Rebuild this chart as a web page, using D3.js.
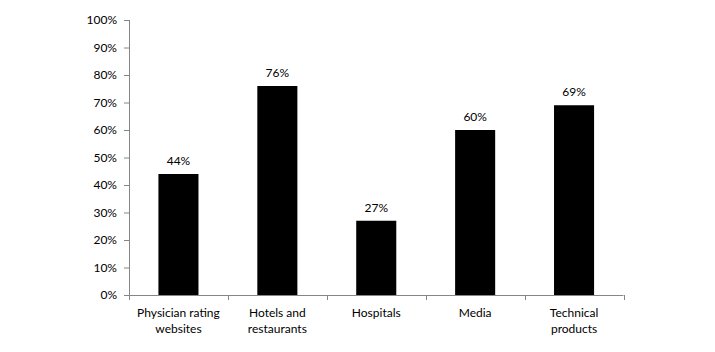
<!DOCTYPE html>
<html><head><meta charset="utf-8">
<script src="https://cdn.jsdelivr.net/npm/d3@7"></script>
<style>body{margin:0;background:#fff}svg{display:block}text{font-family:Lato,"Noto Sans",sans-serif;fill:#000}</style>
</head><body><svg id="c" width="715" height="352"></svg>
<script>
const categories = [["Physician rating","websites"],["Hotels and","restaurants"],["Hospitals"],["Media"],["Technical","products"]];
const values = [44, 76, 27, 60, 69];
const yTicks = [0,10,20,30,40,50,60,70,80,90,100];

const svg = d3.select("#c");
const x = d3.scaleBand().domain(d3.range(categories.length)).range([129, 623.5]).padding(0);
const y = d3.scaleLinear().domain([0,100]).range([295, 20]);
const barW = x.bandwidth()*0.405;
const axisColor = "#868686";

// y axis
const ya = svg.append("g").attr("transform","translate(129,0)")
  .call(d3.axisLeft(y).tickValues(yTicks).tickSize(5).tickPadding(7).tickFormat(d=>d+"%"));
ya.selectAll("path,line").attr("stroke",axisColor);
ya.select(".domain").attr("d","M0.5,"+y(100)+"V"+y(0));
ya.selectAll("text").attr("font-size",12).attr("font-family","Lato, 'Noto Sans', sans-serif").attr("fill","#000");

// x axis
const xa = svg.append("g").attr("transform","translate(0,295)");
xa.append("line").attr("x1",129).attr("x2",623.5).attr("y1",0.5).attr("y2",0.5).attr("stroke",axisColor);
const bounds = d3.range(categories.length+1).map(i => i<categories.length ? x(i) : x(i-1)+x.bandwidth());
xa.selectAll(".tk").data(bounds).join("line").attr("x1",d=>Math.round(d)+0.5).attr("x2",d=>Math.round(d)+0.5)
  .attr("y1",0).attr("y2",5).attr("stroke",axisColor);
const lbl = xa.selectAll(".lb").data(categories).join("text")
  .attr("text-anchor","middle").attr("font-size",12)
  .attr("transform",(d,i)=>"translate("+(x(i)+x.bandwidth()/2)+",0)");
lbl.selectAll("tspan").data(d=>d).join("tspan").attr("x",0).attr("y",(d,j)=>22+j*16).text(d=>d);

// bars
svg.selectAll(".bar").data(values).join("rect")
  .attr("x",(d,i)=>x(i)+x.bandwidth()/2-barW/2).attr("width",barW)
  .attr("y",d=>y(d)).attr("height",d=>y(0)-y(d)).attr("fill","#000");
svg.selectAll(".val").data(values).join("text")
  .attr("x",(d,i)=>x(i)+x.bandwidth()/2).attr("y",d=>y(d)-9)
  .attr("text-anchor","middle").attr("font-size",12).text(d=>d+"%");
</script></body></html>
